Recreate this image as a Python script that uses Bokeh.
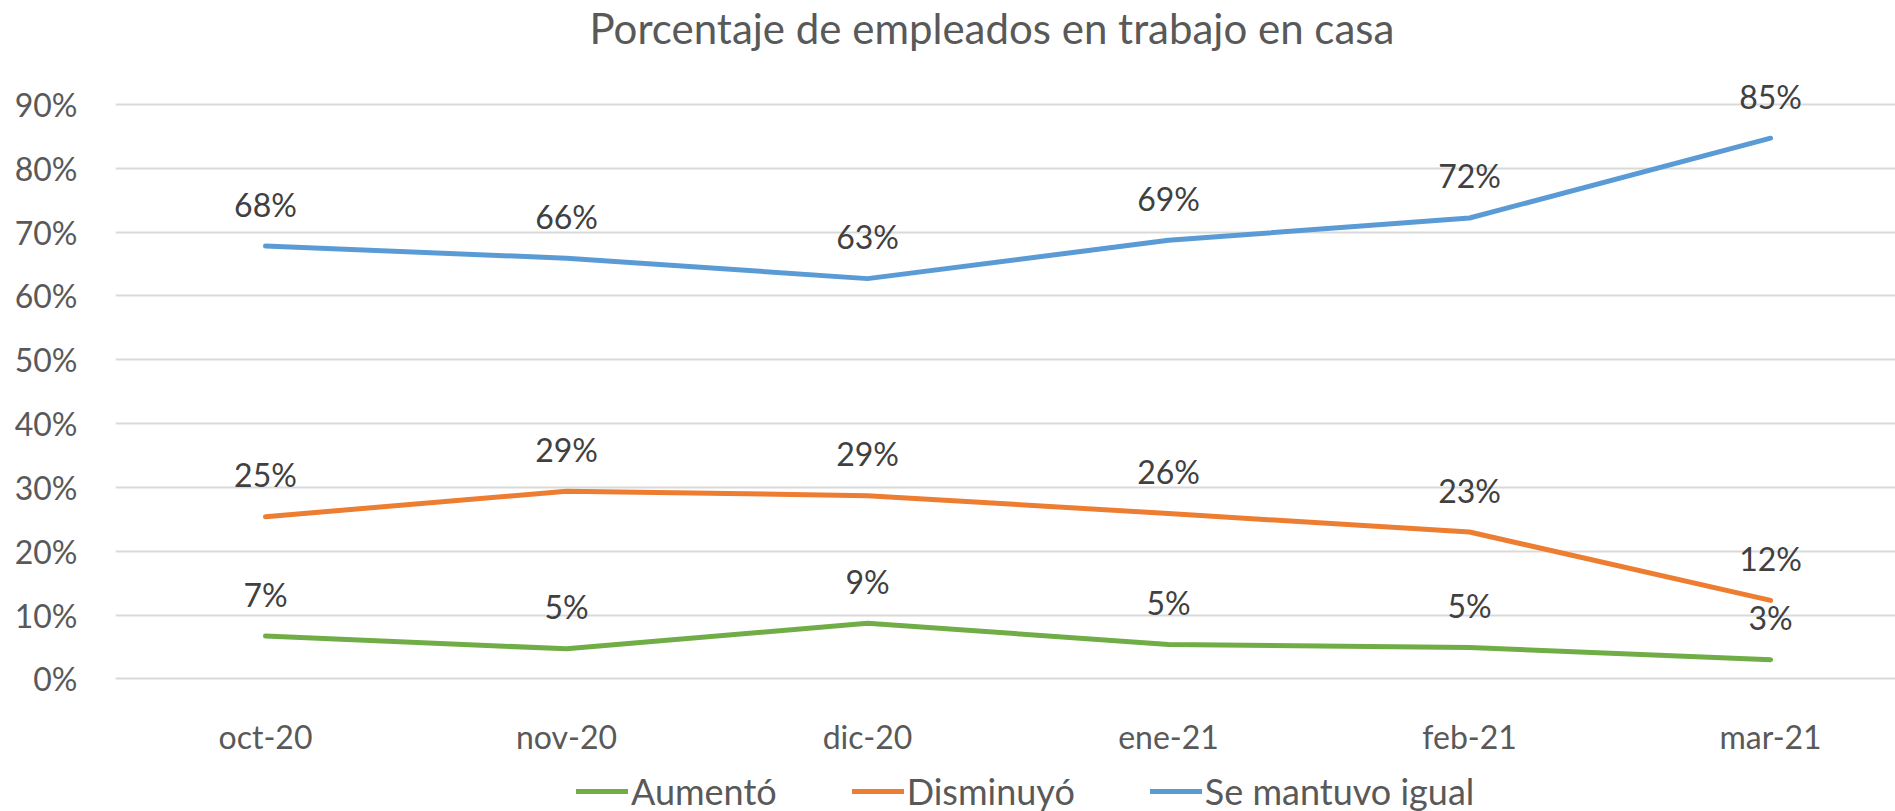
from bokeh.plotting import figure
from bokeh.models import Range1d, FixedTicker, NumeralTickFormatter, ColumnDataSource, Legend, LegendItem
from bokeh.core.properties import value
from bokeh.embed import file_html
from bokeh.resources import INLINE

categories = ["oct-20", "nov-20", "dic-20", "ene-21", "feb-21", "mar-21"]
aumento = [0.067, 0.047, 0.087, 0.054, 0.049, 0.030]
disminuyo = [0.254, 0.294, 0.287, 0.259, 0.230, 0.123]
se_mantuvo = [0.678, 0.659, 0.627, 0.687, 0.722, 0.847]
series_names = ["Aumentó", "Disminuyó", "Se mantuvo igual"]
colors = ["#70AD47", "#ED7D31", "#5B9BD5"]
y_ticks = [0.0, 0.1, 0.2, 0.3, 0.4, 0.5, 0.6, 0.7, 0.8, 0.9]

FONT = "Lato"
W, H = 1895, 811

p = figure(width=W, height=H, output_backend="svg", toolbar_location=None,
           x_range=Range1d(-0.4983, 5.415), y_range=Range1d(-0.2078, 0.98125),
           min_border_left=115, min_border_right=0, min_border_top=50, min_border_bottom=0)
p.outline_line_color = None
p.background_fill_color = "white"
p.border_fill_color = "white"

p.title.text = "Porcentaje de empleados en trabajo en casa"
p.title.align = "left"
p.title.offset = 474
p.title.text_font = FONT
p.title.text_font_size = "42px"
p.title.text_font_style = "normal"
p.title.text_color = "#595959"
p.title.standoff = 0

p.xgrid.grid_line_color = None
p.ygrid.grid_line_color = "#D9D9D9"
p.ygrid.grid_line_width = 2
p.ygrid.ticker = FixedTicker(ticks=y_ticks)

p.yaxis.ticker = FixedTicker(ticks=y_ticks)
p.yaxis.formatter = NumeralTickFormatter(format="0%")
p.yaxis.axis_line_color = None
p.yaxis.major_tick_line_color = None
p.yaxis.minor_tick_line_color = None
p.yaxis.major_label_standoff = 32
p.yaxis.major_label_text_font = FONT
p.yaxis.major_label_text_font_size = "32px"
p.yaxis.major_label_text_color = "#595959"

xidx = list(range(len(categories)))
p.xaxis.ticker = FixedTicker(ticks=xidx)
p.xaxis.major_label_overrides = {i: c for i, c in enumerate(categories)}
p.xaxis.fixed_location = 0
p.xaxis.axis_line_color = None
p.xaxis.major_tick_line_color = None
p.xaxis.minor_tick_line_color = None
p.xaxis.major_label_standoff = 32
p.xaxis.major_label_text_font = FONT
p.xaxis.major_label_text_font_size = "32px"
p.xaxis.major_label_text_color = "#595959"

items = []
for name, vals, col in zip(series_names, [aumento, disminuyo, se_mantuvo], colors):
    src = ColumnDataSource(dict(x=xidx, y=vals, lab=[f"{round(v * 100)}%" for v in vals]))
    r = p.line("x", "y", source=src, line_color=col, line_width=5,
               line_cap="round", line_join="round")
    p.text("x", "y", text="lab", source=src, text_align="center", text_baseline="middle",
           y_offset=-42, text_font=value(FONT), text_font_size="32px", text_color="#404040")
    items.append(LegendItem(label=name, renderers=[r]))

legend = Legend(items=items, orientation="horizontal", location=(461, -2),
                glyph_width=52, glyph_height=30, label_standoff=3, spacing=75,
                padding=0, margin=0, border_line_color=None, background_fill_alpha=0,
                label_text_font=FONT, label_text_font_size="36px", label_text_color="#595959")
p.add_layout(legend, "center")

open("out.html", "w").write(file_html(p, INLINE))
